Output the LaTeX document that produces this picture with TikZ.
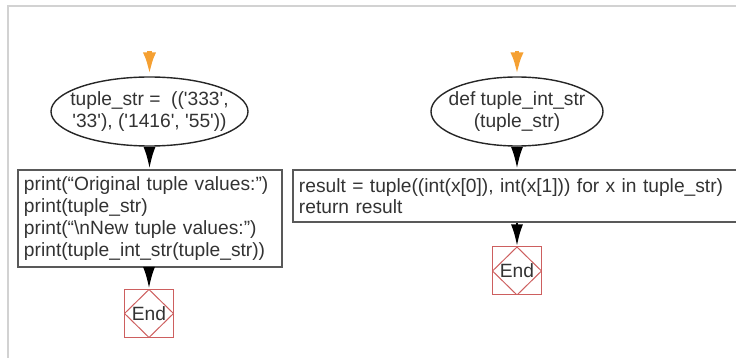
\documentclass[tikz,border=0pt]{standalone}
\usepackage{fontspec}
\setmainfont{Liberation Sans}
\usetikzlibrary{shapes.geometric,arrows.meta,positioning}
\definecolor{flowtext}{RGB}{51,51,51}
\definecolor{endred}{RGB}{205,95,95}
\definecolor{entryorange}{RGB}{245,160,50}
\newcommand{\sq}{\textquotesingle}

\begin{document}
\begin{tikzpicture}[x=0.5pt, y=-0.5pt,
		every node/.style={font=\fontsize{9.6}{10.85}\selectfont, text=flowtext},
		start/.style={ellipse, draw=black!85, line width=0.7pt, minimum height=34.5pt, inner sep=0pt},
		txt/.style={align=center, inner sep=0pt},
		stmt/.style={rectangle, draw=black!65, line width=1pt, align=left, inner xsep=3pt, inner ysep=0pt},
		stop/.style={rectangle, draw=endred, line width=0.5pt, minimum width=24.5pt, minimum height=24pt, inner sep=0pt,
			path picture={\draw[endred, line width=0.5pt] (path picture bounding box.north) -- (path picture bounding box.east) -- (path picture bounding box.south) -- (path picture bounding box.west) -- cycle;}},
		flow/.style={-{Latex[length=11pt, width=6pt]}, line width=1.4pt, black},
		entry/.style={-{Latex[length=12pt, width=6.5pt]}, line width=2.4pt, entryorange}]
		\useasboundingbox (0,0) rectangle (736,358);
		\clip (0,0) rectangle (736,358);

		\draw [gray!35, line width=0.6pt] (8,370) -- (8,6) -- (750,6);

		\node[start, minimum width=98.5pt, label={[txt]center:{tuple\_str = \ ((\sq333\sq,\\\sq33\sq), (\sq1416\sq, \sq55\sq))}}] (s1) at (149.5,111.5) {};
		\node[start, minimum width=86pt, label={[txt]center:{def tuple\_int\_str\\(tuple\_str)}}] (s2) at (517,111.5) {};

		\coordinate (in1) at (149.5,51);
		\coordinate (in2) at (517,51);

		\node[stmt, text width=126pt, minimum height=48.5pt] (b1) at (150,218.5)
			{print(``Original tuple values:'')\\print(tuple\_str)\\print(``\textbackslash nNew tuple values:'')\\print(tuple\_int\_str(tuple\_str))};
		\node[stmt, anchor=west, text width=220pt, minimum height=26pt] (b2) at (292,196)
			{result = tuple((int(x[0]), int(x[1])) for x in tuple\_str)\\return result};

		\node[stop] (e1) at (149,313.5) {End};
		\node[stop] (e2) at (517,271) {End};

		\draw [entry] (in1) -- (s1.north);
		\draw [entry] (in2) -- (s2.north);
		\draw [flow] (s1.south) -- (s1.south |- b1.north);
		\draw [flow] (s2.south) -- (s2.south |- b2.north);
		\draw [flow] (e1 |- b1.south) -- (e1.north);
		\draw [flow] (e2 |- b2.south) -- (e2.north);
	\end{tikzpicture}
\end{document}
